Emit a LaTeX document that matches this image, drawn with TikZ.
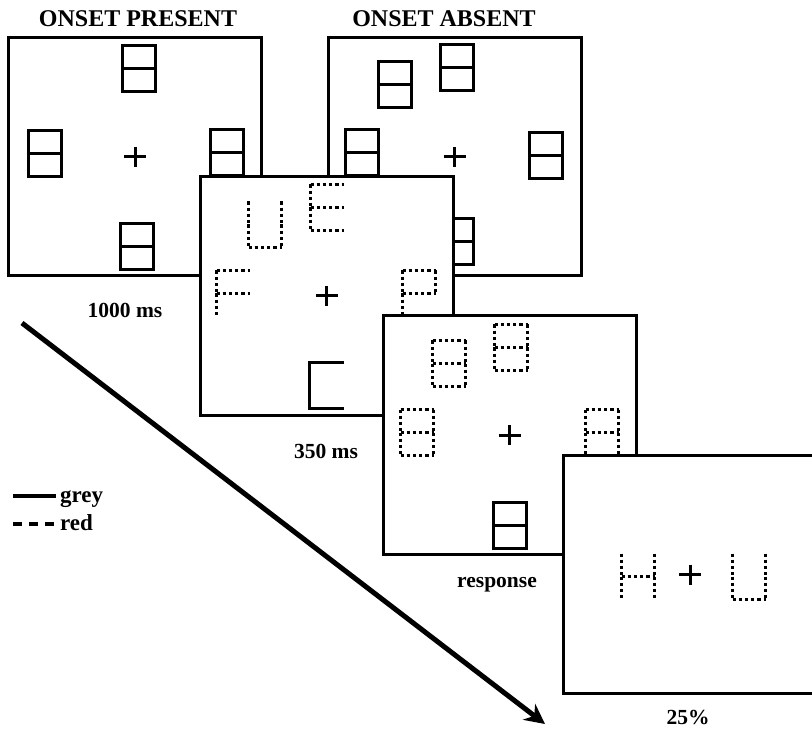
\documentclass[tikz,border=0pt]{standalone}
\usepackage{fontspec}
\setmainfont{Liberation Serif}
\usetikzlibrary{arrows.meta}
\tikzset{
  panel/.style={draw, line width=3pt, fill=white, inner sep=0pt,
    minimum width=253pt, minimum height=238pt},
  greyseg/.style={line width=3.2pt, line cap=rect},
  redseg/.style={line width=3.2pt, dash pattern=on 3.2pt off 3pt},
  fixcross/.style={line width=3pt},
  ttl/.style={font=\fontsize{24}{28}\selectfont\bfseries, inner sep=0pt},
  lbl/.style={font=\fontsize{21.5}{25}\selectfont\bfseries, inner sep=0pt},
  lgd/.style={font=\fontsize{23}{27}\selectfont\bfseries, inner sep=0pt},
  timeline/.style={line width=5pt, -{Stealth[length=20pt,width=20pt]}}
}
% segments of the figure-eight placeholder
\def\segB{tl/tr,tl/ml,ml/bl,tr/mr,mr/br,ml/mr,bl/br}
\def\segU{tl/ml,ml/bl,tr/mr,mr/br,bl/br}
\def\segE{tl/tr,tl/ml,ml/bl,ml/mr,bl/br}
\def\segF{tl/tr,tl/ml,ml/bl,ml/mr}
\def\segP{tl/tr,tl/ml,ml/bl,tr/mr,ml/mr}
\def\segH{tl/ml,ml/bl,tr/mr,mr/br,ml/mr}
\def\segC{tl/tr,tl/ml,ml/bl,bl/br}
\newcommand{\segglyph}[3]{% top left, style, segments
  \begin{scope}[shift={#1}]
    \coordinate (tl) at (1.5,1.5);  \coordinate (tr) at (34.5,1.5);
    \coordinate (ml) at (1.5,24.5); \coordinate (mr) at (34.5,24.5);
    \coordinate (bl) at (1.5,47.5); \coordinate (br) at (34.5,47.5);
    \foreach \p/\q in #3 {\draw[#2] (\p) -- (\q);}
  \end{scope}}
\begin{document}
\begin{tikzpicture}[x=1pt, y=-1pt, line join=miter]
\useasboundingbox (0,0) rectangle (812,730);
\clip (0,0) rectangle (812,730);
% placeholders, onset present
\node[panel] (present) at (135,157) {};
\segglyph{(121,44)}{greyseg}{\segB}
\segglyph{(27,129)}{greyseg}{\segB}
\segglyph{(209,128)}{greyseg}{\segB}
\segglyph{(119,222)}{greyseg}{\segB}
% placeholders, onset absent
\node[panel] (absent) at (454.5,157) {};
\segglyph{(377,60)}{greyseg}{\segB}
\segglyph{(439,43)}{greyseg}{\segB}
\segglyph{(344,128)}{greyseg}{\segB}
\segglyph{(528,131)}{greyseg}{\segB}
\segglyph{(439,217)}{greyseg}{\segB}
% letters
\node[panel] (letters) at (326.5,296) {};
\segglyph{(247,200)}{redseg}{\segU}
\segglyph{(309,183)}{redseg}{\segE}
\segglyph{(215,269)}{redseg}{\segF}
\segglyph{(401,269)}{redseg}{\segP}
\segglyph{(308,361)}{greyseg}{\segC}
% response display
\node[panel] (probe) at (509.5,435) {};
\segglyph{(431,339)}{redseg}{\segB}
\segglyph{(493,323)}{redseg}{\segB}
\segglyph{(399,408)}{redseg}{\segB}
\segglyph{(584,408)}{redseg}{\segB}
\segglyph{(492,501)}{greyseg}{\segB}
% probe
\node[panel] (target) at (690,574.5) {};
\segglyph{(620,552)}{redseg}{\segH}
\segglyph{(731,552)}{redseg}{\segU}
% fixation crosses
\foreach \n in {present,absent,letters,probe,target}
  \draw[fixcross] (\n.center) +(-11,0) -- +(11,0) +(0,-10) -- +(0,10);
% titles and durations
\node[ttl, anchor=base] (ttlpresent) at (138,27) {ONSET PRESENT};
\node[ttl, anchor=base] (ttlabsent) at (444,27) {ONSET ABSENT};
\node[lbl, anchor=base] (dur1) at (125,318) {1000 ms};
\node[lbl, anchor=base] (dur2) at (326,458) {350 ms};
\node[lbl, anchor=base] (dur3) at (497,587) {response};
\node[lbl, anchor=base] (dur4) at (688,724) {25\%};
% time arrow
\coordinate (tstart) at (22,323);
\coordinate (tend) at (545,724);
\draw[timeline] (tstart) -- (tend);
% legend
\coordinate (gA) at (13,496); \coordinate (gB) at (56,496);
\coordinate (rA) at (13,524); \coordinate (rB) at (56,524);
\draw[line width=3.5pt] (gA) -- (gB);
\draw[line width=3.5pt, dash pattern=on 9pt off 7pt] (rA) -- (rB);
\node[lgd, anchor=base west] (greytxt) at (60,502) {grey};
\node[lgd, anchor=base west] (redtxt) at (60,530) {red};
\end{tikzpicture}
\end{document}
